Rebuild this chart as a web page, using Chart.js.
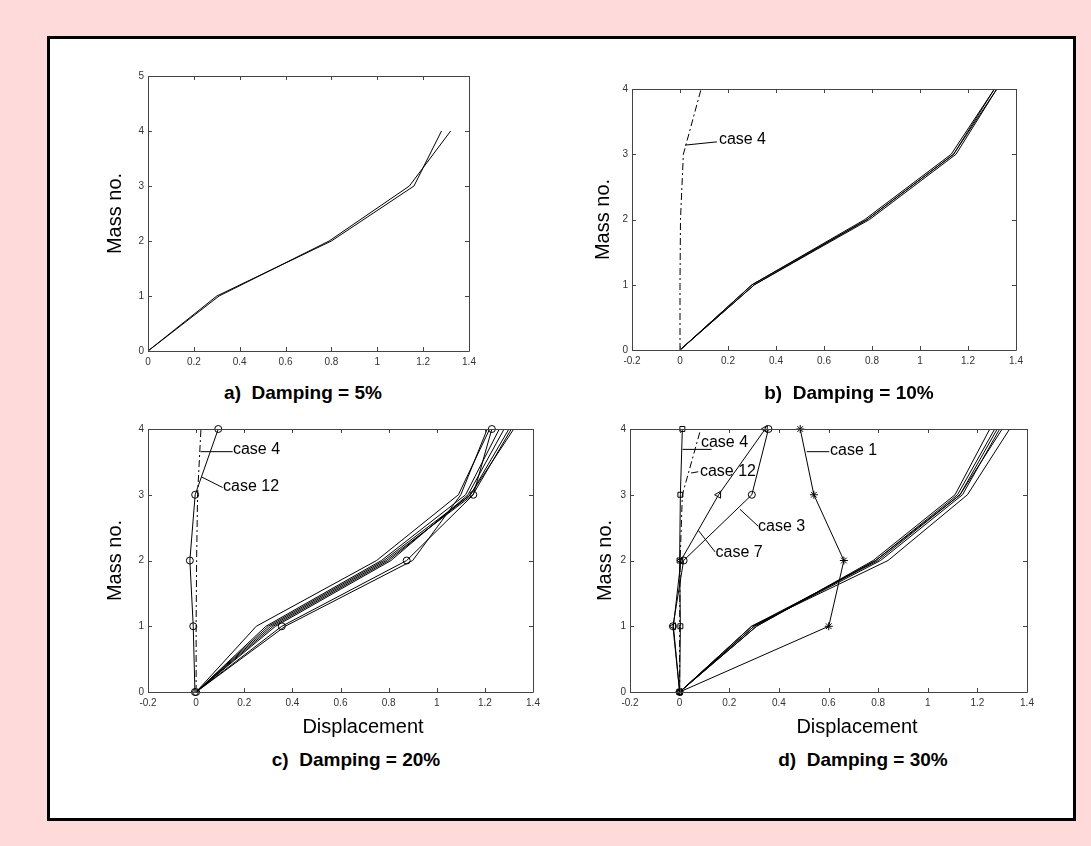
<!DOCTYPE html>
<html>
<head>
<meta charset="utf-8">
<title>Displacement profiles</title>
<script src="https://cdn.jsdelivr.net/npm/chart.js@4.4.1/dist/chart.umd.min.js"></script>
<style>
  body { margin: 0; background: #ffdada; font-family: "Liberation Sans", Arial, sans-serif; }
  #page { position: relative; width: 1091px; height: 846px; overflow: hidden; }
  #frame { position: absolute; left: 47px; top: 36px; width: 1029px; height: 785px; box-sizing: border-box; border: 3px solid #000; background: #fff; }
  canvas { position: absolute; }
  .cap { position: absolute; width: 300px; text-align: center; font-weight: bold; font-size: 19px; line-height: 22px; color: #000; white-space: nowrap; }
  .xlab { position: absolute; width: 200px; text-align: center; font-size: 20px; line-height: 24px; color: #000; }
</style>
</head>
<body>
<div id="page">
  <div id="frame"></div>
  <canvas id="chartA"></canvas>
  <canvas id="chartB"></canvas>
  <canvas id="chartC"></canvas>
  <canvas id="chartD"></canvas>
  <div class="cap" style="left:153px; top:382px;">a)&nbsp; Damping = 5%</div>
  <div class="cap" style="left:699px; top:382px;">b)&nbsp; Damping = 10%</div>
  <div class="xlab" style="left:263px; top:714px;">Displacement</div>
  <div class="xlab" style="left:757px; top:714px;">Displacement</div>
  <div class="cap" style="left:206px; top:749px;">c)&nbsp; Damping = 20%</div>
  <div class="cap" style="left:713px; top:749px;">d)&nbsp; Damping = 30%</div>
</div>
<script>
const FONT = "'Liberation Sans', Arial, sans-serif";

// mass numbers (y) shared by every profile
const massNo = [0, 1, 2, 3, 4];

// tick values
const xTicksA = [0, 0.2, 0.4, 0.6, 0.8, 1, 1.2, 1.4];
const yTicksA = [0, 1, 2, 3, 4, 5];
const xTicks = [-0.2, 0, 0.2, 0.4, 0.6, 0.8, 1, 1.2, 1.4];
const yTicks = [0, 1, 2, 3, 4];

// a) damping 5%  (displacement at mass 0..4)
const a5_1 = [0, 0.31, 0.79, 1.14, 1.32];
const a5_2 = [0, 0.30, 0.80, 1.16, 1.28];

// b) damping 10%
const b10_1 = [0, 0.31, 0.78, 1.14, 1.32];
const b10_2 = [0, 0.30, 0.77, 1.13, 1.31];
const b10_3 = [0, 0.31, 0.79, 1.15, 1.32];
const b10_4 = [0, 0.30, 0.78, 1.14, 1.31];
const b10_case4 = [0, 0, 0.002, 0.014, 0.088];

// c) damping 20%
const c20_case12 = [-0.005, -0.012, -0.026, -0.004, 0.092];
const c20_case4 = [0, 0, 0.002, 0.006, 0.02];
const c20_circ = [0, 0.356, 0.875, 1.152, 1.229];
const c20_2 = [0, 0.37, 0.90, 1.10, 1.21];
const c20_3 = [0, 0.25, 0.75, 1.09, 1.22];
const c20_4 = [0, 0.30, 0.78, 1.14, 1.32];
const c20_5 = [0, 0.31, 0.79, 1.15, 1.31];
const c20_6 = [0, 0.32, 0.80, 1.14, 1.30];
const c20_7 = [0, 0.33, 0.81, 1.13, 1.28];
const c20_8 = [0, 0.29, 0.77, 1.12, 1.26];

// d) damping 30%
const d30_case4 = [0, 0.003, 0, 0.003, 0.011];
const d30_case12 = [0, 0, 0.002, 0.011, 0.085];
const d30_case7 = [0, -0.025, 0.005, 0.157, 0.345];
const d30_case3 = [0, -0.027, 0.016, 0.291, 0.358];
const d30_case1 = [0, 0.601, 0.662, 0.541, 0.486];
const d30_1 = [0, 0.31, 0.78, 1.11, 1.25];
const d30_2 = [0, 0.30, 0.79, 1.12, 1.27];
const d30_3 = [0, 0.29, 0.80, 1.13, 1.28];
const d30_4 = [0, 0.30, 0.81, 1.14, 1.29];
const d30_5 = [0, 0.29, 0.84, 1.16, 1.33];
const d30_6 = [0, 0.31, 0.79, 1.13, 1.30];

// "case N" callouts, in data coordinates
const notesB = [
  { text: "case 4", at: [0.162, 3.23], from: [0.021, 3.14], to: [0.154, 3.19] },
];
const notesC = [
  { text: "case 4", at: [0.153, 3.68], from: [0.018, 3.655], to: [0.152, 3.655] },
  { text: "case 12", at: [0.112, 3.12], from: [0.023, 3.27], to: [0.11, 3.11] },
];
const notesD = [
  { text: "case 4", at: [0.086, 3.79], from: [0.012, 3.69], to: [0.129, 3.69] },
  { text: "case 12", at: [0.082, 3.35], from: [0.046, 3.33], to: [0.075, 3.35] },
  { text: "case 3", at: [0.316, 2.52], from: [0.243, 2.78], to: [0.317, 2.52] },
  { text: "case 7", at: [0.145, 2.12], from: [0.075, 2.46], to: [0.143, 2.13] },
  { text: "case 1", at: [0.606, 3.67], from: [0.512, 3.655], to: [0.603, 3.655] },
];

const fmtTick = (v) => String(Math.round(v * 10) / 10);
const pts = (xs) => xs.map((x, i) => ({ x, y: massNo[i] }));

function profile(xs, extra) {
  return Object.assign({
    data: pts(xs),
    showLine: true,
    borderColor: "#000",
    borderWidth: 1,
    pointRadius: 0,
    pointBackgroundColor: "rgba(0,0,0,0)",
    pointBorderColor: "#000",
    pointBorderWidth: 1,
    clip: false,
  }, extra || {});
}

const dashDot = { borderDash: [7, 3, 2, 3] };
const circles = { pointStyle: "circle", pointRadius: 3.5 };
const squares = { pointStyle: "rect", pointRadius: 3.5 };
const triangles = { pointStyle: "triangle", pointRadius: 4, pointRotation: -90 };
const stars = { pointStyle: "star", pointRadius: 4 };

// MATLAB style box with inward ticks on all four sides
const axesBox = {
  id: "axesBox",
  afterDraw(chart) {
    const { ctx, chartArea: a, scales } = chart;
    const len = 4;
    ctx.save();
    ctx.strokeStyle = "#444";
    ctx.lineWidth = 1;
    ctx.beginPath();
    ctx.rect(a.left + 0.5, a.top + 0.5, a.right - a.left, a.bottom - a.top);
    scales.x.ticks.forEach((t) => {
      const px = Math.round(scales.x.getPixelForValue(t.value)) + 0.5;
      ctx.moveTo(px, a.bottom); ctx.lineTo(px, a.bottom - len);
      ctx.moveTo(px, a.top); ctx.lineTo(px, a.top + len);
    });
    scales.y.ticks.forEach((t) => {
      const py = Math.round(scales.y.getPixelForValue(t.value)) + 0.5;
      ctx.moveTo(a.left, py); ctx.lineTo(a.left + len, py);
      ctx.moveTo(a.right, py); ctx.lineTo(a.right - len, py);
    });
    ctx.stroke();
    ctx.restore();
  },
};

const caseNotes = {
  id: "caseNotes",
  afterDatasetsDraw(chart, args, opts) {
    const { ctx, scales: { x, y } } = chart;
    ctx.save();
    ctx.strokeStyle = "#000";
    ctx.fillStyle = "#000";
    ctx.lineWidth = 1;
    ctx.font = "16px " + FONT;
    ctx.textBaseline = "middle";
    (opts.items || []).forEach((n) => {
      ctx.beginPath();
      ctx.moveTo(x.getPixelForValue(n.from[0]), y.getPixelForValue(n.from[1]));
      ctx.lineTo(x.getPixelForValue(n.to[0]), y.getPixelForValue(n.to[1]));
      ctx.stroke();
      ctx.fillText(n.text, x.getPixelForValue(n.at[0]), y.getPixelForValue(n.at[1]));
    });
    ctx.restore();
  },
};

function makeChart(id, box, xVals, yVals, datasets, notes) {
  const padL = 100, padT = 20, padR = 20, padB = 30;
  const cv = document.getElementById(id);
  cv.width = box.right - box.left + padL + padR;
  cv.height = box.bottom - box.top + padT + padB;
  cv.style.left = (box.left - padL) + "px";
  cv.style.top = (box.top - padT) + "px";

  const tickFont = { family: FONT, size: 10 };
  return new Chart(cv, {
    type: "scatter",
    data: { datasets },
    plugins: [axesBox, caseNotes],
    options: {
      responsive: false,
      animation: false,
      events: [],
      layout: { padding: { left: 0, top: padT, right: padR, bottom: 0 } },
      plugins: {
        legend: { display: false },
        tooltip: { enabled: false },
        caseNotes: { items: notes },
      },
      scales: {
        x: {
          type: "linear",
          min: xVals[0],
          max: xVals[xVals.length - 1],
          afterBuildTicks: (s) => { s.ticks = xVals.map((v) => ({ value: v })); },
          afterFit: (s) => { s.height = padB; },
          grid: { display: false, drawTicks: false },
          border: { display: false },
          ticks: { font: tickFont, color: "#333", padding: 5, maxRotation: 0, autoSkip: false, callback: fmtTick },
        },
        y: {
          type: "linear",
          min: yVals[0],
          max: yVals[yVals.length - 1],
          afterBuildTicks: (s) => { s.ticks = yVals.map((v) => ({ value: v })); },
          afterFit: (s) => { s.width = padL; },
          grid: { display: false, drawTicks: false },
          border: { display: false },
          ticks: { font: tickFont, color: "#333", padding: 4, autoSkip: false, callback: fmtTick },
          title: {
            display: true,
            text: "Mass no.",
            color: "#000",
            font: { family: FONT, size: 20 },
            padding: { top: box.labelX - (box.left - padL) - 12, bottom: 0 },
          },
        },
      },
    },
  });
}

makeChart("chartA", { left: 148, top: 76, right: 469, bottom: 351, labelX: 115 }, xTicksA, yTicksA, [
  profile(a5_1),
  profile(a5_2),
], []);

makeChart("chartB", { left: 632, top: 89, right: 1016, bottom: 350, labelX: 603 }, xTicks, yTicks, [
  profile(b10_1),
  profile(b10_2),
  profile(b10_3),
  profile(b10_4),
  profile(b10_case4, dashDot),
], notesB);

makeChart("chartC", { left: 148, top: 429, right: 533, bottom: 692, labelX: 115 }, xTicks, yTicks, [
  profile(c20_4),
  profile(c20_5),
  profile(c20_6),
  profile(c20_7),
  profile(c20_8),
  profile(c20_3),
  profile(c20_2),
  profile(c20_circ, circles),
  profile(c20_case4, dashDot),
  profile(c20_case12, circles),
], notesC);

makeChart("chartD", { left: 630, top: 429, right: 1027, bottom: 692, labelX: 605 }, xTicks, yTicks, [
  profile(d30_1),
  profile(d30_2),
  profile(d30_3),
  profile(d30_4),
  profile(d30_5),
  profile(d30_6),
  profile(d30_case1, stars),
  profile(d30_case3, circles),
  profile(d30_case7, triangles),
  profile(d30_case12, dashDot),
  profile(d30_case4, squares),
], notesD);
</script>
</body>
</html>
